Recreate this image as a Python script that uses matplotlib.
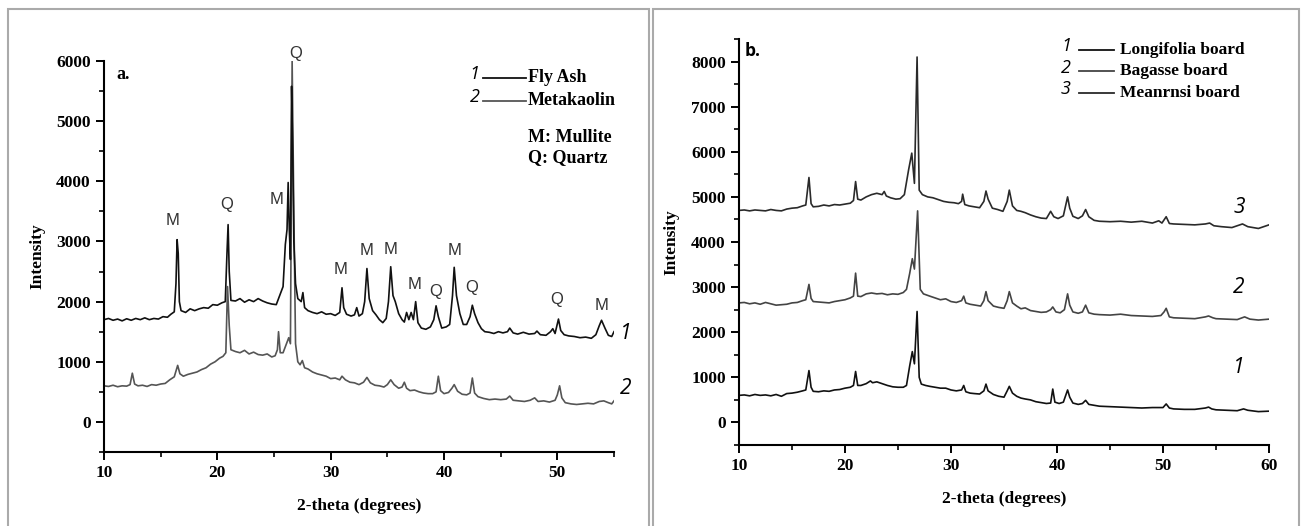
import matplotlib
matplotlib.use("Agg")
import matplotlib.pyplot as plt
from matplotlib.ticker import MultipleLocator
from matplotlib.patches import Rectangle

# ---- panel a: fly ash / metakaolin (2-theta, intensity) ----
fly_ash = [
    (10.0, 1700), (10.4, 1720), (10.8, 1690), (11.2, 1710), (11.6, 1680), (12.0, 1715),
    (12.4, 1690), (12.8, 1720), (13.2, 1700), (13.6, 1730), (14.0, 1700), (14.4, 1720),
    (14.8, 1710), (15.2, 1750), (15.6, 1740), (15.9, 1790), (16.2, 1830), (16.35, 2300),
    (16.45, 3030), (16.55, 2800), (16.65, 2000), (16.8, 1850), (17.2, 1820), (17.6, 1880),
    (18.0, 1850), (18.4, 1880), (18.8, 1900), (19.2, 1890), (19.6, 1950), (20.0, 1940),
    (20.4, 1980), (20.7, 2000), (20.85, 2800), (20.95, 3280), (21.05, 2500), (21.2, 2020),
    (21.6, 2010), (22.0, 2050), (22.4, 1990), (22.8, 2030), (23.2, 2000), (23.6, 2050),
    (24.0, 2010), (24.4, 1980), (24.8, 1960), (25.2, 1950), (25.5, 2100), (25.8, 2250),
    (26.0, 2950), (26.15, 3200), (26.25, 3980), (26.35, 3200), (26.45, 2700), (26.55, 5580),
    (26.65, 4500), (26.75, 3000), (26.9, 2300), (27.1, 2050), (27.4, 2000), (27.55, 2150),
    (27.7, 1900), (28.0, 1850), (28.4, 1820), (28.8, 1800), (29.2, 1830), (29.6, 1790),
    (30.0, 1800), (30.4, 1770), (30.8, 1820), (31.0, 2230), (31.15, 1900), (31.4, 1790),
    (31.8, 1760), (32.1, 1780), (32.3, 1900), (32.5, 1760), (32.8, 1800), (33.0, 2000),
    (33.2, 2550), (33.4, 2050), (33.7, 1850), (34.0, 1780), (34.3, 1700), (34.6, 1650),
    (34.9, 1720), (35.1, 2000), (35.3, 2580), (35.5, 2100), (35.7, 2000), (36.0, 1800),
    (36.3, 1700), (36.5, 1660), (36.7, 1820), (36.9, 1700), (37.1, 1820), (37.3, 1700),
    (37.5, 2000), (37.7, 1650), (38.0, 1560), (38.4, 1540), (38.8, 1580), (39.1, 1700),
    (39.3, 1930), (39.5, 1750), (39.8, 1560), (40.2, 1580), (40.5, 1620), (40.75, 2100),
    (40.9, 2570), (41.1, 2100), (41.4, 1800), (41.7, 1620), (42.0, 1620), (42.3, 1750),
    (42.5, 1940), (42.7, 1800), (43.0, 1650), (43.3, 1550), (43.6, 1500), (44.0, 1490),
    (44.4, 1470), (44.8, 1500), (45.2, 1480), (45.6, 1500), (45.8, 1560), (46.1, 1480),
    (46.5, 1460), (47.0, 1490), (47.5, 1460), (48.0, 1470), (48.2, 1510), (48.5, 1450),
    (49.0, 1440), (49.4, 1500), (49.6, 1550), (49.8, 1470), (50.1, 1710), (50.3, 1520),
    (50.6, 1450), (51.0, 1430), (51.5, 1420), (52.0, 1400), (52.5, 1410), (53.0, 1390),
    (53.4, 1450), (53.7, 1600), (53.9, 1690), (54.2, 1560), (54.5, 1440), (54.8, 1420),
    (55.0, 1500),
]

metakaolin = [
    (10.0, 600), (10.4, 590), (10.8, 610), (11.2, 585), (11.6, 600), (12.0, 595),
    (12.3, 620), (12.5, 810), (12.7, 630), (13.0, 600), (13.4, 610), (13.8, 590),
    (14.2, 620), (14.6, 610), (15.0, 630), (15.4, 640), (15.8, 700), (16.2, 750),
    (16.5, 940), (16.7, 800), (17.0, 760), (17.4, 790), (17.8, 810), (18.2, 830),
    (18.6, 870), (19.0, 900), (19.4, 960), (19.8, 1000), (20.2, 1060), (20.5, 1090),
    (20.75, 1150), (20.9, 2250), (21.05, 1600), (21.2, 1200), (21.6, 1170), (22.0, 1150),
    (22.4, 1190), (22.8, 1130), (23.2, 1160), (23.6, 1120), (24.0, 1110), (24.4, 1130),
    (24.8, 1080), (25.1, 1100), (25.3, 1200), (25.4, 1500), (25.55, 1150), (25.8, 1150),
    (26.1, 1300), (26.3, 1400), (26.45, 1300), (26.6, 6000), (26.75, 3500), (26.9, 1300),
    (27.1, 1000), (27.3, 950), (27.5, 1020), (27.7, 900), (28.0, 880), (28.4, 830),
    (28.8, 800), (29.2, 780), (29.6, 760), (30.0, 720), (30.4, 730), (30.8, 700),
    (31.0, 760), (31.3, 700), (31.7, 660), (32.1, 650), (32.5, 620), (32.9, 660),
    (33.2, 740), (33.5, 650), (33.9, 610), (34.3, 600), (34.7, 580), (35.0, 620),
    (35.3, 700), (35.6, 620), (36.0, 560), (36.3, 580), (36.5, 660), (36.7, 560),
    (37.0, 520), (37.4, 530), (37.8, 500), (38.2, 480), (38.6, 470), (39.0, 470),
    (39.3, 500), (39.5, 760), (39.7, 520), (40.0, 470), (40.4, 490), (40.7, 560),
    (40.9, 620), (41.2, 510), (41.6, 460), (42.0, 450), (42.3, 480), (42.5, 730),
    (42.7, 480), (43.0, 420), (43.5, 390), (44.0, 370), (44.5, 380), (45.0, 370),
    (45.5, 380), (45.8, 430), (46.1, 360), (46.6, 350), (47.1, 340), (47.6, 360),
    (48.0, 400), (48.3, 340), (48.8, 350), (49.3, 330), (49.8, 360), (50.0, 450),
    (50.2, 600), (50.4, 400), (50.7, 320), (51.2, 300), (51.7, 290), (52.2, 300),
    (52.7, 310), (53.2, 300), (53.7, 340), (54.1, 350), (54.5, 320), (54.8, 300),
    (55.0, 350),
]

# peak labels for panel a: (text, 2-theta, intensity)
peak_labels = [
    ("M", 16.05, 3350), ("Q", 20.8, 3620), ("M", 25.2, 3690), ("Q", 26.93, 6130),
    ("M", 30.9, 2540), ("M", 33.16, 2850), ("M", 35.28, 2860), ("M", 37.4, 2280),
    ("Q", 39.3, 2170), ("M", 40.96, 2850), ("Q", 42.4, 2230), ("Q", 49.94, 2040),
    ("M", 53.86, 1930),
]

# ---- panel b: boards ----
longifolia = [
    (10.0, 600), (10.5, 610), (11.0, 590), (11.5, 620), (12.0, 600), (12.5, 610),
    (13.0, 590), (13.5, 620), (14.0, 580), (14.5, 640), (15.0, 650), (15.5, 670),
    (16.0, 700), (16.3, 720), (16.6, 1150), (16.8, 780), (17.0, 690), (17.5, 680),
    (18.0, 700), (18.5, 690), (19.0, 720), (19.5, 730), (20.0, 760), (20.5, 780),
    (20.8, 820), (21.0, 1130), (21.2, 820), (21.5, 820), (22.0, 860), (22.4, 920),
    (22.6, 880), (23.0, 900), (23.5, 860), (24.0, 820), (24.5, 790), (25.0, 780),
    (25.5, 780), (25.8, 820), (26.1, 1250), (26.35, 1570), (26.55, 1300), (26.8, 2460),
    (27.0, 1000), (27.2, 850), (27.6, 820), (28.0, 800), (28.5, 780), (29.0, 760),
    (29.5, 760), (30.0, 720), (30.5, 700), (31.0, 720), (31.2, 820), (31.4, 680),
    (31.8, 650), (32.2, 640), (32.7, 630), (33.1, 700), (33.3, 850), (33.5, 700),
    (34.0, 620), (34.5, 580), (35.0, 560), (35.3, 700), (35.5, 800), (35.8, 650),
    (36.2, 580), (36.6, 540), (37.0, 520), (37.5, 500), (38.0, 460), (38.5, 440),
    (39.0, 420), (39.4, 430), (39.6, 740), (39.8, 450), (40.2, 420), (40.6, 450),
    (41.0, 720), (41.2, 560), (41.5, 430), (42.0, 400), (42.4, 420), (42.7, 490),
    (43.0, 400), (43.5, 380), (44.0, 360), (45.0, 350), (46.0, 340), (47.0, 330),
    (48.0, 320), (49.0, 330), (50.0, 330), (50.3, 410), (50.6, 320), (51.0, 300),
    (52.0, 290), (53.0, 290), (54.0, 320), (54.3, 340), (54.6, 300), (55.0, 280),
    (56.0, 270), (57.0, 260), (57.6, 300), (58.0, 270), (59.0, 240), (60.0, 250),
]

bagasse = [
    (10.0, 2650), (10.5, 2660), (11.0, 2630), (11.5, 2650), (12.0, 2620), (12.5, 2660),
    (13.0, 2630), (13.5, 2600), (14.0, 2610), (14.5, 2620), (15.0, 2650), (15.5, 2660),
    (16.0, 2700), (16.3, 2720), (16.6, 3060), (16.8, 2750), (17.0, 2680), (17.5, 2670),
    (18.0, 2660), (18.5, 2650), (19.0, 2680), (19.5, 2700), (20.0, 2720), (20.5, 2760),
    (20.8, 2800), (21.0, 3310), (21.2, 2800), (21.5, 2790), (22.0, 2850), (22.5, 2870),
    (23.0, 2850), (23.5, 2860), (24.0, 2830), (24.5, 2850), (25.0, 2840), (25.5, 2880),
    (25.8, 2950), (26.1, 3300), (26.35, 3630), (26.55, 3400), (26.85, 4690), (27.1, 2950),
    (27.4, 2850), (28.0, 2800), (28.5, 2760), (29.0, 2720), (29.5, 2740), (30.0, 2680),
    (30.5, 2660), (31.0, 2700), (31.2, 2800), (31.4, 2650), (31.8, 2620), (32.3, 2600),
    (32.8, 2580), (33.1, 2700), (33.3, 2900), (33.5, 2700), (34.0, 2580), (34.5, 2550),
    (35.0, 2530), (35.3, 2700), (35.5, 2900), (35.8, 2650), (36.2, 2580), (36.6, 2520),
    (37.0, 2540), (37.5, 2480), (38.0, 2460), (38.5, 2440), (39.0, 2450), (39.4, 2500),
    (39.6, 2560), (39.9, 2450), (40.3, 2430), (40.7, 2500), (41.0, 2850), (41.2, 2600),
    (41.5, 2450), (42.0, 2420), (42.4, 2450), (42.7, 2600), (43.0, 2430), (43.5, 2400),
    (44.0, 2390), (45.0, 2380), (46.0, 2400), (47.0, 2370), (48.0, 2360), (49.0, 2350),
    (49.8, 2370), (50.1, 2450), (50.3, 2530), (50.6, 2340), (51.0, 2320), (52.0, 2310),
    (53.0, 2300), (54.0, 2340), (54.3, 2360), (54.7, 2320), (55.0, 2300), (56.0, 2290),
    (57.0, 2280), (57.7, 2340), (58.2, 2290), (59.0, 2270), (60.0, 2290),
]

meanrnsi = [
    (10.0, 4700), (10.5, 4710), (11.0, 4690), (11.5, 4710), (12.0, 4700), (12.5, 4690),
    (13.0, 4720), (13.5, 4700), (14.0, 4690), (14.5, 4730), (15.0, 4750), (15.5, 4760),
    (16.0, 4800), (16.3, 4820), (16.6, 5430), (16.8, 4850), (17.0, 4780), (17.5, 4790),
    (18.0, 4820), (18.5, 4800), (19.0, 4830), (19.5, 4820), (20.0, 4840), (20.5, 4860),
    (20.8, 4920), (21.0, 5340), (21.2, 4950), (21.5, 4930), (22.0, 5000), (22.5, 5050),
    (23.0, 5080), (23.5, 5050), (23.7, 5120), (23.9, 5020), (24.3, 4980), (24.8, 4950),
    (25.2, 4960), (25.6, 5050), (26.0, 5600), (26.3, 5970), (26.55, 5300), (26.8, 8100),
    (27.0, 5150), (27.3, 5050), (27.8, 5000), (28.3, 4980), (28.8, 4940), (29.3, 4900),
    (29.8, 4880), (30.3, 4870), (30.7, 4850), (31.0, 4900), (31.1, 5060), (31.3, 4830),
    (31.7, 4800), (32.2, 4780), (32.7, 4760), (33.1, 4900), (33.3, 5130), (33.5, 4950),
    (33.9, 4750), (34.4, 4720), (34.9, 4680), (35.3, 4900), (35.5, 5150), (35.8, 4800),
    (36.2, 4700), (36.6, 4680), (37.0, 4650), (37.5, 4600), (38.0, 4560), (38.5, 4530),
    (39.0, 4520), (39.4, 4680), (39.7, 4560), (40.1, 4520), (40.6, 4580), (41.0, 5000),
    (41.2, 4750), (41.5, 4570), (42.0, 4520), (42.4, 4580), (42.7, 4720), (43.0, 4560),
    (43.5, 4480), (44.0, 4460), (45.0, 4450), (46.0, 4460), (47.0, 4440), (48.0, 4460),
    (49.0, 4420), (49.6, 4470), (49.9, 4420), (50.3, 4560), (50.6, 4410), (51.0, 4400),
    (52.0, 4390), (53.0, 4380), (54.0, 4400), (54.4, 4420), (54.8, 4360), (55.5, 4340),
    (56.5, 4320), (57.5, 4400), (58.0, 4340), (59.0, 4300), (60.0, 4380),
]

SERIF = "Liberation Serif"
SANS = "Liberation Sans"
ITAL = "Open Sans"


def style_axis(ax, xmax, ymax, ytop):
    for s in ["top", "right"]:
        ax.spines[s].set_visible(False)
    for s in ["left", "bottom"]:
        ax.spines[s].set_linewidth(1.5)
    ax.set_xlim(10, xmax)
    ax.set_ylim(-500, ymax)
    ax.xaxis.set_major_locator(MultipleLocator(10))
    ax.xaxis.set_minor_locator(MultipleLocator(5))
    ax.yaxis.set_minor_locator(MultipleLocator(500))
    ax.set_yticks(range(0, ytop + 1, 1000))
    ax.tick_params(which="major", direction="out", length=6, width=1.4)
    ax.tick_params(which="minor", direction="out", length=3.5, width=1.2)
    for lab in ax.get_xticklabels() + ax.get_yticklabels():
        lab.set_fontfamily(SERIF)
        lab.set_fontweight("bold")
        lab.set_fontsize(12.5)
    ax.set_xlabel("2-theta (degrees)", fontfamily=SERIF, fontweight="bold", fontsize=12.5, labelpad=12)
    ax.set_ylabel("Intensity", fontfamily=SERIF, fontweight="bold", fontsize=12.5, labelpad=8)


fig = plt.figure(figsize=(13.01, 5.26), dpi=100)

# panel frames
fig.patches.append(Rectangle((8 / 1301, -0.05), 641 / 1301, 1.05 - 9 / 526, transform=fig.transFigure,
                             fill=False, edgecolor="#aaaaaa", lw=1.5))
fig.patches.append(Rectangle((653 / 1301, -0.05), 646 / 1301, 1.05 - 9 / 526, transform=fig.transFigure,
                             fill=False, edgecolor="#aaaaaa", lw=1.5))

# ---------- panel a ----------
ax1 = fig.add_axes([104 / 1301, 74 / 526, 510 / 1301, 391 / 526])
x, y = zip(*metakaolin)
ax1.plot(x, y, color="#555555", lw=1.2)
x, y = zip(*fly_ash)
ax1.plot(x, y, color="#111111", lw=1.2)
style_axis(ax1, 55, 6000, 6000)

for t, px, py in peak_labels:
    ax1.text(px, py, t, fontfamily=SANS, fontsize=12, color="#333333", ha="center", va="center")

ax1.text(11.1, 5780, "a.", fontfamily=SERIF, fontweight="bold", fontsize=13, va="center")
ax1.text(56.0, 1470, "1", fontfamily=ITAL, style="italic", fontsize=15, ha="center", va="center", clip_on=False)
ax1.text(56.0, 550, "2", fontfamily=ITAL, style="italic", fontsize=15, ha="center", va="center", clip_on=False)

# legend panel a
leg_a = [("1", "Fly Ash", "#111111", 5720), ("2", "Metakaolin", "#555555", 5340)]
for num, name, col, ly in leg_a:
    ax1.text(42.7, ly + 60, num, fontfamily=ITAL, style="italic", fontsize=13, ha="center", va="center")
    ax1.plot([43.45, 47.2], [ly, ly], color=col, lw=1.3)
    ax1.text(47.4, ly, name, fontfamily=SERIF, fontweight="bold", fontsize=13, va="center")
ax1.text(47.4, 4725, "M: Mullite", fontfamily=SERIF, fontweight="bold", fontsize=13, va="center")
ax1.text(47.4, 4390, "Q: Quartz", fontfamily=SERIF, fontweight="bold", fontsize=13, va="center")

# ---------- panel b ----------
ax2 = fig.add_axes([739 / 1301, 81 / 526, 530 / 1301, 406 / 526])
x, y = zip(*longifolia)
ax2.plot(x, y, color="#111111", lw=1.2)
x, y = zip(*bagasse)
ax2.plot(x, y, color="#444444", lw=1.2)
x, y = zip(*meanrnsi)
ax2.plot(x, y, color="#2a2a2a", lw=1.2)
style_axis(ax2, 60, 8500, 8000)

ax2.text(10.5, 8230, "b.", fontfamily=ITAL, fontweight="bold", fontsize=12.5, va="center")
for num, px, py in [("3", 57.18, 4760), ("2", 57.18, 3000), ("1", 57.18, 1220)]:
    ax2.text(px, py, num, fontfamily=ITAL, style="italic", fontsize=15, ha="center", va="center")

leg_b = [("1", "Longifolia board", "#111111", 8265), ("2", "Bagasse board", "#444444", 7784),
         ("3", "Meanrnsi board", "#2a2a2a", 7302)]
for num, name, col, ly in leg_b:
    ax2.text(40.85, ly + 80, num, fontfamily=ITAL, style="italic", fontsize=13, ha="center", va="center")
    ax2.plot([42.1, 45.4], [ly, ly], color=col, lw=1.3)
    ax2.text(45.9, ly, name, fontfamily=SERIF, fontweight="bold", fontsize=12.5, va="center")

fig.savefig("out.png", dpi=100)
